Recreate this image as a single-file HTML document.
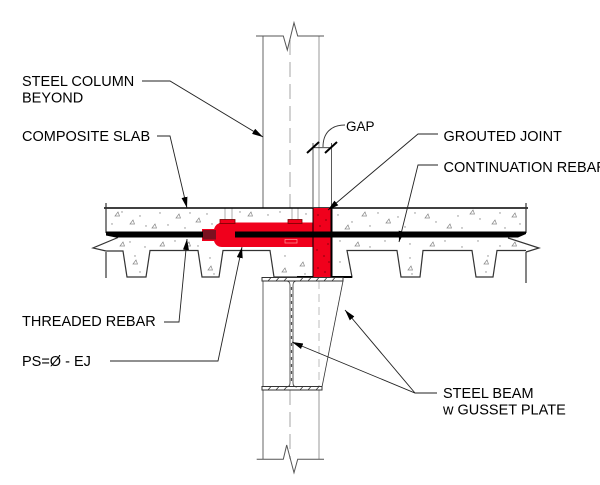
<!DOCTYPE html>
<html><head><meta charset="utf-8">
<style>
html,body{margin:0;padding:0;background:#fff;}
svg{display:block;}
text{font-family:"Liberation Sans",Arial,sans-serif;font-size:14.5px;fill:#000;}
</style></head><body>
<svg width="600" height="485" viewBox="0 0 600 485" xmlns="http://www.w3.org/2000/svg">
<defs>
<marker id="ar" markerUnits="userSpaceOnUse" markerWidth="12" markerHeight="8" refX="11" refY="3" orient="auto">
<path d="M0,0 L11,3 L0,6 z" fill="#000"/>
</marker>
</defs>
<rect width="600" height="485" fill="#fff"/>

<!-- Column -->
<g fill="none">
<path d="M263,36 V208 M263,278 V459" stroke="#666" stroke-width="1"/>
<path d="M319,36 V208 M319,390 V459" stroke="#bbb" stroke-width="1.5"/>
<path d="M319,281 V387" stroke="#ccc" stroke-width="1.3" stroke-dasharray="8,5"/>
<path d="M290,40 V208 M290,390 V459" stroke="#c4c4c4" stroke-width="1.5" stroke-dasharray="15,7"/>
<path d="M256,36 H283.3 L287.3,50 L294,22.7 L297.7,36 H324" stroke="#555" stroke-width="1"/>
<path d="M256.7,459.3 H283.3 L286.7,445 L294,472.7 L297.7,459.3 H324" stroke="#555" stroke-width="1"/>
</g>

<!-- Studs -->
<g fill="none" stroke="#999" stroke-width="0.8">
<rect x="225" y="208" width="7" height="13"/>
<rect x="292" y="208" width="6" height="13"/>
</g>

<!-- Slab lines -->
<g fill="none" stroke="#333" stroke-width="1.2">
<path d="M104,208 H528" stroke="#000" stroke-width="1.6"/>
<path d="M106,203 V233 M526,203 V233"/>
<path d="M118,237.5 L93,248 L106,251 H123 L127,277 H146 L150,250.5 H198 L202,277 H219 L223,250.5 H270 L274,277 H352 L347,250.5 H397 L401,277 H420 L423,250.5 H472 L476,277 H493 L497,250.5 H526"/>
<path d="M508,238 L539,248 L526,252"/>
<path d="M106,252 V278 M526,252 V283"/>
<path d="M297,277 H352" stroke="#000" stroke-width="2"/>
</g>

<!-- Stipple -->
<g fill="none" stroke="#8a8a8a" stroke-width="0.7">
<path d="M115,216 l3,-4 l1.5,4z M130,224 l3,-4 l1.5,4z M152,228 l3,-4 l1.5,4z M176,218 l3,-4 l1.5,4z M196,222 l3,-4 l1.5,4z M160,246 l3,-4 l1.5,4z M248,216 l3,-4 l1.5,4z M345,229 l3,-4 l1.5,4z M362,216 l3,-4 l1.5,4z M386,223 l3,-4 l1.5,4z M425,218 l3,-4 l1.5,4z M447,228 l3,-4 l1.5,4z M470,214 l3,-4 l1.5,4z M492,224 l3,-4 l1.5,4z M512,217 l3,-4 l1.5,4z M133,264 l3,-4 l1.5,4z M208,270 l3,-4 l1.5,4z M408,270 l3,-4 l1.5,4z M484,264 l3,-4 l1.5,4z M300,266 l3,-4 l1.5,4z M282,272 l3,-4 l1.5,4z M355,246 l3,-4 l1.5,4z M430,246 l3,-4 l1.5,4z M120,246 l3,-4 l1.5,4z M512,246 l3,-4 l1.5,4z M186,246 l3,-4 l1.5,4z"/>
</g>
<g fill="#8a8a8a">
<circle cx="112" cy="224" r="0.7"/><circle cx="122" cy="212" r="0.7"/><circle cx="140" cy="216" r="0.7"/><circle cx="146" cy="226" r="0.7"/><circle cx="160" cy="213" r="0.7"/><circle cx="168" cy="225" r="0.7"/><circle cx="185" cy="228" r="0.7"/><circle cx="190" cy="213" r="0.7"/><circle cx="207" cy="214" r="0.7"/><circle cx="212" cy="224" r="0.7"/><circle cx="240" cy="212" r="0.7"/><circle cx="268" cy="215" r="0.7"/><circle cx="280" cy="212" r="0.7"/><circle cx="306" cy="214" r="0.7"/><circle cx="338" cy="215" r="0.7"/><circle cx="352" cy="222" r="0.7"/><circle cx="370" cy="226" r="0.7"/><circle cx="378" cy="213" r="0.7"/><circle cx="398" cy="217" r="0.7"/><circle cx="405" cy="227" r="0.7"/><circle cx="415" cy="213" r="0.7"/><circle cx="436" cy="222" r="0.7"/><circle cx="458" cy="216" r="0.7"/><circle cx="462" cy="228" r="0.7"/><circle cx="480" cy="219" r="0.7"/><circle cx="500" cy="213" r="0.7"/><circle cx="505" cy="228" r="0.7"/><circle cx="520" cy="224" r="0.7"/>
<circle cx="130" cy="242" r="0.7"/><circle cx="145" cy="247" r="0.7"/><circle cx="175" cy="241" r="0.7"/><circle cx="198" cy="246" r="0.7"/><circle cx="340" cy="241" r="0.7"/><circle cx="370" cy="247" r="0.7"/><circle cx="385" cy="241" r="0.7"/><circle cx="410" cy="244" r="0.7"/><circle cx="445" cy="241" r="0.7"/><circle cx="462" cy="247" r="0.7"/><circle cx="478" cy="241" r="0.7"/><circle cx="500" cy="246" r="0.7"/>
<circle cx="135" cy="256" r="0.7"/><circle cx="140" cy="272" r="0.7"/><circle cx="210" cy="258" r="0.7"/><circle cx="214" cy="274" r="0.7"/><circle cx="285" cy="256" r="0.7"/><circle cx="305" cy="274" r="0.7"/><circle cx="340" cy="262" r="0.7"/><circle cx="410" cy="258" r="0.7"/><circle cx="412" cy="274" r="0.7"/><circle cx="486" cy="272" r="0.7"/><circle cx="488" cy="256" r="0.7"/>
</g>

<!-- Red threaded rebar / coupler -->
<path d="M202,229 H214 Q216,223 222,222.5 H313 V247 H222 Q216,247 214,241 H202 Z" fill="#f0001c"/>
<rect x="203" y="230" width="13" height="9.5" fill="#7a1020"/>
<rect x="220" y="219.5" width="15" height="4" fill="#f0001c" stroke="#700" stroke-width="0.8"/>
<rect x="288" y="219.5" width="14" height="4" fill="#f0001c" stroke="#700" stroke-width="0.8"/>
<rect x="285" y="239.5" width="12" height="3.5" fill="none" stroke="#ff9a9a" stroke-width="0.7"/>

<!-- Grout -->
<rect x="313" y="208" width="19" height="69" fill="#f0001c"/>
<g fill="#400">
<circle cx="318" cy="215" r="0.6"/><circle cx="326" cy="220" r="0.6"/><circle cx="320" cy="226" r="0.6"/><circle cx="328" cy="244" r="0.6"/><circle cx="317" cy="250" r="0.6"/><circle cx="324" cy="256" r="0.6"/><circle cx="329" cy="262" r="0.6"/><circle cx="318" cy="268" r="0.6"/><circle cx="325" cy="272" r="0.6"/>
</g>
<path d="M313,208 V277" stroke="#000" stroke-width="1"/>
<path d="M331.5,208 V277" stroke="#000" stroke-width="2"/>

<!-- Black rebar -->
<path d="M106,231.5 H203 V237.5 H116 L106,235.5 Z" fill="#000"/>
<path d="M235,231.5 H526 V234 L518,237.5 H235 Z" fill="#000"/>

<!-- Beam -->
<g fill="#fff" stroke="#333" stroke-width="1">
<rect x="262" y="277.5" width="81" height="3.5"/>
<rect x="262" y="386.5" width="60" height="3.5"/>
</g>
<g stroke="#333" stroke-width="0.8" fill="none">
<path d="M268,281 l3,-3.5 M276,281 l3,-3.5 M284,281 l3,-3.5 M300,281 l3,-3.5 M308,281 l3,-3.5 M316,281 l3,-3.5 M324,281 l3,-3.5 M332,281 l3,-3.5"/>
<path d="M268,390 l3,-3.5 M276,390 l3,-3.5 M284,390 l3,-3.5 M300,390 l3,-3.5 M308,390 l3,-3.5 M316,390 l3,-3.5"/>
<path d="M286,281 Q290,281 290,285 V383 Q290,387 286,387"/>
<path d="M297,281 Q293,281 293,285 V383 Q293,387 297,387"/>
<path d="M291.5,287 V382" stroke="#555" stroke-width="1.2" stroke-dasharray="3,4"/>
<path d="M343,281 L322,387" stroke="#333"/>
</g>

<!-- Gap dimension -->
<g stroke="#333" fill="none">
<path d="M313,143 V208 M331.5,143 V208" stroke-width="0.8"/>
<path d="M313,147.7 H331.5" stroke-width="0.8"/>
<path d="M307,153 L319,142 M325,153 L337,142" stroke="#000" stroke-width="2"/>
<path d="M345,125 C331,125 323,133 323,147" stroke-width="0.9"/>
</g>

<!-- Leaders -->
<g fill="none" stroke="#222" stroke-width="0.9" marker-end="url(#ar)">
<path d="M142,81 H170 L263,137"/>
<path d="M157,136 H170 L187,208"/>
<path d="M164,322 H179 L187,239"/>
<path d="M110,361 H218 L242,247"/>
<path d="M438,134 H418 L328,210"/>
<path d="M438,165 H418 L399,242"/>
<path d="M437,393 H415 L292,342"/>
<path d="M415,393 L345,310"/>
</g>

<!-- Labels -->
<text x="22" y="86">STEEL COLUMN</text>
<text x="22" y="102.5">BEYOND</text>
<text x="22" y="141">COMPOSITE SLAB</text>
<text x="22" y="326">THREADED REBAR</text>
<text x="22" y="366">PS=Ø - EJ</text>
<text x="346" y="131" style="font-size:13.5px">GAP</text>
<text x="443.5" y="141">GROUTED JOINT</text>
<text x="443.5" y="172">CONTINUATION REBAR</text>
<text x="443" y="398">STEEL BEAM</text>
<text x="443" y="414.5">w GUSSET PLATE</text>
</svg>
</body></html>
